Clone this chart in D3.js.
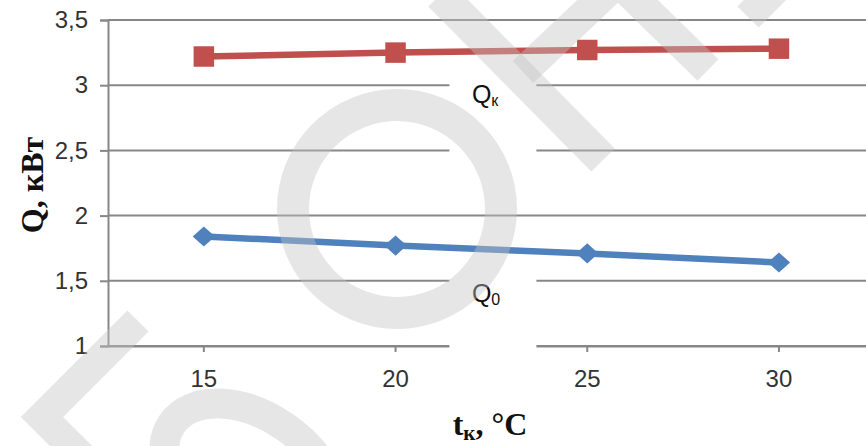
<!DOCTYPE html>
<meta charset="utf-8">
<head>
    <script type="text/javascript" src="https://cdn.jsdelivr.net/npm/d3@7"></script>
    <style>
        body { margin: 0; background: #fff; }
        svg { display: block; }
        .tick text { font-family: "Liberation Sans", Arial, sans-serif; font-size: 24px; fill: #333; }
    </style>
    <title>Q vs tk</title>
</head>
<body>
<div id="chart"></div>
<script>
    // data
    var categories = ["15", "20", "25", "30"];
    var qkValues = [3.22, 3.25, 3.27, 3.28];
    var q0Values = [1.84, 1.77, 1.71, 1.64];
    var yTicks = [1, 1.5, 2, 2.5, 3, 3.5];

    var width = 866, height = 446;
    var margin = {top: 20, left: 108, bottom: 100};
    var plotH = height - margin.top - margin.bottom;

    var svg = d3.select("#chart").append("svg")
        .attr("width", width)
        .attr("height", height);

    var x = d3.scaleBand()
        .domain(categories)
        .range([margin.left, margin.left + 4 * 191.7]);

    var y = d3.scaleLinear()
        .domain([1, 3.5])
        .range([margin.top + plotH, margin.top]);

    var gridColor = "#878787";

    // gridlines
    svg.append("g").selectAll("line")
        .data(yTicks)
        .enter().append("line")
        .attr("x1", margin.left).attr("x2", width)
        .attr("y1", d => y(d)).attr("y2", d => y(d))
        .attr("stroke", gridColor)
        .attr("stroke-width", 2);

    // y axis
    var yAxis = svg.append("g")
        .attr("transform", "translate(" + margin.left + ",0)")
        .call(d3.axisLeft(y).tickValues(yTicks).tickSize(8).tickPadding(12)
            .tickFormat(d => String(d).replace(".", ",")));
    yAxis.select(".domain").attr("stroke", gridColor).attr("stroke-width", 2);
    yAxis.selectAll(".tick line").attr("stroke", gridColor).attr("stroke-width", 2);

    // x axis
    var xAxis = svg.append("g")
        .attr("transform", "translate(0," + y(1) + ")")
        .call(d3.axisBottom(x).tickSize(6).tickSizeOuter(0).tickPadding(18));
    xAxis.select(".domain").attr("stroke", gridColor).attr("stroke-width", 2);
    xAxis.selectAll(".tick line").attr("stroke", gridColor).attr("stroke-width", 2);
    xAxis.selectAll(".tick text").attr("dy", "0.71em");

    var cx = d => x(d) + x.bandwidth() / 2;

    var series = [
        {name: "Q", sub: "к", values: qkValues, color: "#C0504D", marker: "square"},
        {name: "Q", sub: "0", values: q0Values, color: "#4F81BD", marker: "diamond"}
    ];

    // series labels, white box behind (cuts the gridlines)
    series.forEach(function (s) {
        var lx = (cx(categories[1]) + cx(categories[2])) / 2;
        var ly = y((s.values[1] + s.values[2]) / 2) + 43;
        svg.append("rect")
            .attr("x", lx - 42).attr("y", ly - 17)
            .attr("width", 87).attr("height", 80)
            .attr("fill", "#fff");
        var t = svg.append("text")
            .attr("x", lx - 19.5).attr("y", ly + 9)
            .attr("font-family", "Liberation Sans, Arial, sans-serif")
            .attr("font-size", 25)
            .attr("fill", "#111");
        t.append("tspan").text(s.name);
        t.append("tspan").attr("font-size", 16).attr("dy", 3).text(s.sub);
    });

    var line = d3.line()
        .x((d, i) => cx(categories[i]))
        .y(d => y(d));

    series.forEach(function (s) {
        svg.append("path")
            .datum(s.values)
            .attr("d", line)
            .attr("fill", "none")
            .attr("stroke", s.color)
            .attr("stroke-width", 6.5);
        var sym = s.marker === "square"
            ? d3.symbol().type(d3.symbolSquare).size(420)
            : d3.symbol().type(d3.symbolSquare).size(250);
        svg.append("g").selectAll("path")
            .data(s.values)
            .enter().append("path")
            .attr("d", sym)
            .attr("transform", (d, i) => "translate(" + cx(categories[i]) + "," + y(d) + ")" +
                (s.marker === "diamond" ? " scale(1,0.9) rotate(45)" : ""))
            .attr("fill", s.color);
    });

    // axis titles
    svg.append("text")
        .attr("transform", "translate(43,185) rotate(-90)")
        .attr("text-anchor", "middle")
        .attr("font-family", "Liberation Serif, Times New Roman, serif")
        .attr("font-weight", "bold")
        .attr("font-size", 32)
        .attr("fill", "#111")
        .text("Q, кВт");

    var xt = svg.append("text")
        .attr("x", 490).attr("y", 435)
        .attr("text-anchor", "middle")
        .attr("font-family", "Liberation Serif, Times New Roman, serif")
        .attr("font-weight", "bold")
        .attr("font-size", 32)
        .attr("fill", "#111");
    xt.append("tspan").text("t");
    xt.append("tspan").attr("font-size", 21).attr("dy", 5).text("к");
    xt.append("tspan").attr("dy", -5).text(", °C");

    // watermark overlay
    var wm = svg.append("g")
        .attr("fill", "none")
        .attr("stroke", "#c4c4c4")
        .attr("stroke-opacity", 0.42)
        .attr("stroke-linejoin", "miter");
    wm.append("path").attr("d", "M138 321 L42 417 L92 467").attr("stroke-width", 30);
    wm.append("circle").attr("cx", 397).attr("cy", 209).attr("r", 104).attr("stroke-width", 32);
    wm.append("ellipse").attr("cx", 0).attr("cy", 0).attr("rx", 95).attr("ry", 62)
        .attr("transform", "translate(250,478) rotate(35)").attr("stroke-width", 30);
    wm.append("path").attr("d", "M440 -5 L603 160").attr("stroke-width", 33);
    wm.append("path").attr("d", "M523 72 L618 -18 L708 70").attr("stroke-width", 30);
    wm.append("path").attr("d", "M785 -20 L748 17").attr("stroke-width", 30);
</script>
</body>
